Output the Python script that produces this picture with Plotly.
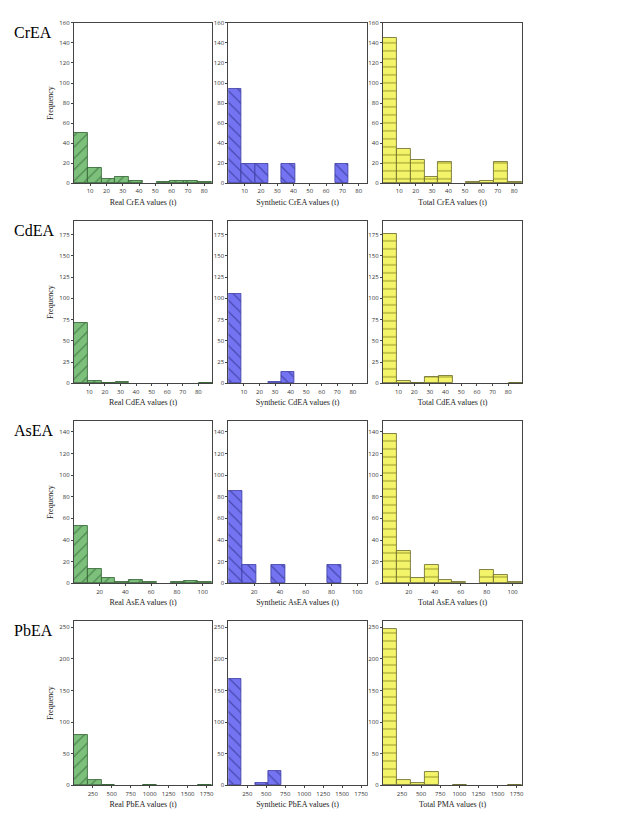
import plotly.graph_objects as go
from plotly.subplots import make_subplots

# row names, bin widths, axis ranges
metals = ['CrEA', 'CdEA', 'AsEA', 'PbEA']
total_names = ['CrEA', 'CdEA', 'AsEA', 'PMA']
bin_width = {
    'real': [8.45, 8.9, 10.7, 182],
    'synth': [8.2, 8.5, 11.0, 176],
    'total': [8.45, 8.9, 10.7, 182],
}
x_max = [85, 89, 107.5, 1825]
y_max = [160, 191, 150, 260]
x_ticks = [list(range(10, 81, 10)), list(range(10, 81, 10)),
           list(range(20, 101, 20)), list(range(250, 1751, 250))]
y_ticks = [list(range(0, 161, 20)), list(range(0, 176, 25)),
           list(range(0, 141, 20)), list(range(0, 251, 50))]

# histogram counts per bin
real_counts = [
    [50, 15, 4, 6, 2, 0, 1, 2, 2, 1],
    [71, 3, 1, 2, 0, 0, 0, 0, 0, 1],
    [53, 13, 5, 1, 3, 1, 0, 1, 2, 1],
    [80, 8, 1, 0, 0, 1, 0, 0, 0, 1],
]
synth_counts = [
    [94, 19, 19, 0, 19, 0, 0, 0, 19, 0],
    [105, 0, 0, 2, 13, 0, 0, 0, 0, 0],
    [85, 17, 0, 17, 0, 0, 0, 17, 0, 0],
    [168, 0, 3, 22, 0, 0, 0, 0, 0, 0],
]
total_counts = [
    [145, 34, 23, 6, 21, 0, 1, 2, 21, 1],
    [176, 3, 1, 8, 9, 0, 0, 0, 0, 1],
    [138, 30, 5, 17, 3, 1, 0, 12, 8, 1],
    [247, 8, 4, 21, 0, 1, 0, 0, 0, 1],
]

styles = {
    'real': dict(bg='#7cc07c', fg='#1f4a1f', shape='/', line='#2e5e2e'),
    'synth': dict(bg='#7474f2', fg='#1a1a66', shape='\\', line='#3a3aa0'),
    'total': dict(bg='#f4f46a', fg='#555500', shape='-', line='#66662a'),
}

W, H = 633, 813
col_px = [(66, 205), (221, 360), (376, 516)]
row_px = [(11, 173), (211, 375), (413, 577), (615, 781)]

fig = make_subplots(rows=4, cols=3)

for r in range(4):
    sets = [('real', real_counts[r], f'Real {metals[r]} values (t)'),
            ('synth', synth_counts[r], f'Synthetic {metals[r]} values (t)'),
            ('total', total_counts[r], f'Total {total_names[r]} values (t)')]
    for c, (key, counts, xlabel) in enumerate(sets):
        w = bin_width[key][r]
        xs = [w * (i + 0.5) for i, n in enumerate(counts) if n > 0]
        ys = [n for n in counts if n > 0]
        st = styles[key]
        fig.add_trace(go.Bar(
            x=xs, y=ys, width=w,
            marker=dict(color=st['bg'], line=dict(color=st['line'], width=0.8),
                        pattern=dict(shape=st['shape'], fgcolor=st['fg'],
                                     bgcolor=st['bg'], size=8, solidity=0.15)),
            showlegend=False), row=r + 1, col=c + 1)
        idx = r * 3 + c + 1
        xa = 'xaxis' if idx == 1 else f'xaxis{idx}'
        ya = 'yaxis' if idx == 1 else f'yaxis{idx}'
        x0, x1 = col_px[c]
        y0, y1 = row_px[r]
        fig.layout[xa].update(
            domain=[x0 / W, x1 / W], range=[0, x_max[r]], tickvals=x_ticks[r],
            showline=True, mirror=True, linecolor='#444', linewidth=1,
            ticks='outside', ticklen=2, showgrid=False, zeroline=False,
            tickfont=dict(size=6, color='#333'),
            title=dict(text=xlabel, font=dict(family='Liberation Serif', size=8, color='#222'), standoff=4))
        fig.layout[ya].update(
            domain=[1 - y1 / H, 1 - y0 / H], range=[0, y_max[r]], tickvals=y_ticks[r],
            showline=True, mirror=True, linecolor='#444', linewidth=1,
            ticks='outside', ticklen=2, showgrid=False, zeroline=False,
            tickfont=dict(size=6, color='#333'))
        if c == 0:
            fig.layout[ya].title = dict(text='Frequency', font=dict(family='Liberation Serif', size=8, color='#222'), standoff=4)

for r in range(4):
    fig.add_annotation(text=metals[r], x=4 / W, y=1 - (row_px[r][0] + 10) / H,
                       xref='paper', yref='paper', xanchor='left', yanchor='middle',
                       showarrow=False, font=dict(family='Liberation Serif', size=16, color='black'))

fig.update_layout(width=W, height=H, margin=dict(l=0, r=0, t=0, b=0),
                  plot_bgcolor='white', paper_bgcolor='white', bargap=0)
fig.write_html("out.html")
